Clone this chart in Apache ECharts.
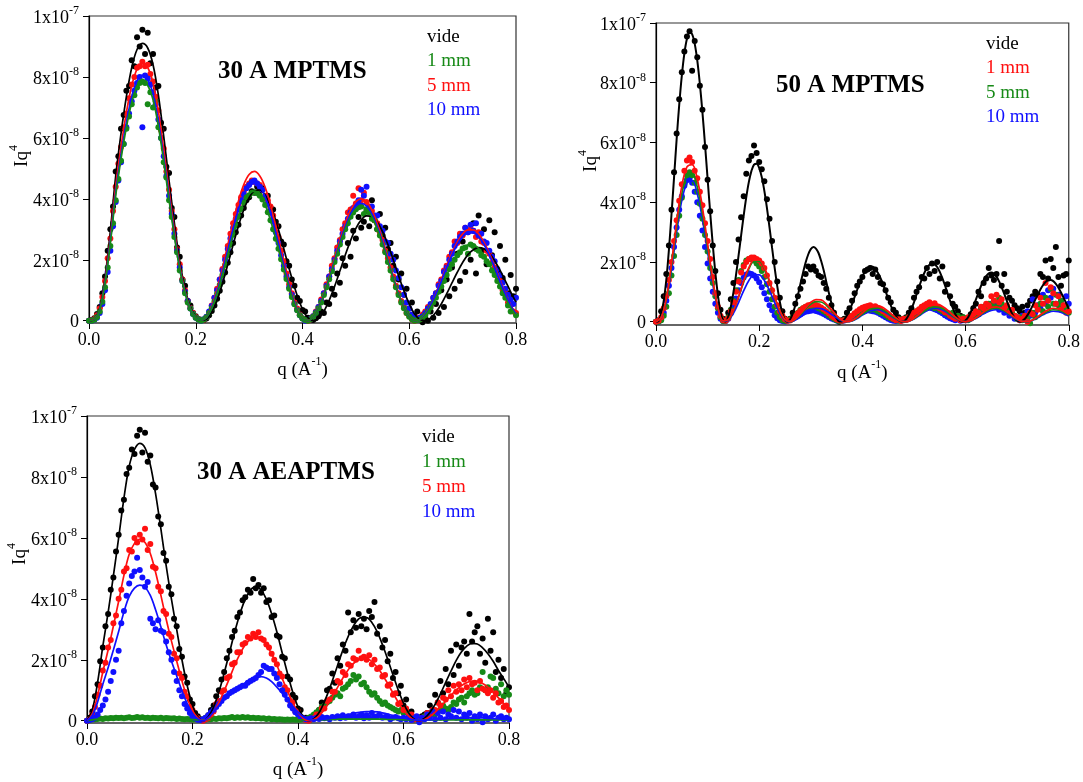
<!DOCTYPE html>
<html><head><meta charset="utf-8">
<script src="https://cdn.jsdelivr.net/npm/echarts@6/dist/echarts.min.js"></script>
<style>html,body{margin:0;padding:0;background:#fff}#c{width:1083px;height:782px}</style>
</head><body><div id="c"></div>
<script>
// ---- q grids (A^-1) ----
const qPts = [
0,0.005,0.01,0.015,0.02,0.025,0.03,0.035,0.04,0.045,0.05,0.055,0.06,0.065,0.07,0.075,0.08,0.085,0.09,0.095,
0.1,0.105,0.11,0.115,0.12,0.125,0.13,0.135,0.14,0.145,0.15,0.155,0.16,0.165,0.17,0.175,0.18,0.185,0.19,0.195,
0.2,0.205,0.21,0.215,0.22,0.225,0.23,0.235,0.24,0.245,0.25,0.255,0.26,0.265,0.27,0.275,0.28,0.285,0.29,0.295,
0.3,0.305,0.31,0.315,0.32,0.325,0.33,0.335,0.34,0.345,0.35,0.355,0.36,0.365,0.37,0.375,0.38,0.385,0.39,0.395,
0.4,0.405,0.41,0.415,0.42,0.425,0.43,0.435,0.44,0.445,0.45,0.455,0.46,0.465,0.47,0.475,0.48,0.485,0.49,0.495,
0.5,0.505,0.51,0.515,0.52,0.525,0.53,0.535,0.54,0.545,0.55,0.555,0.56,0.565,0.57,0.575,0.58,0.585,0.59,0.595,
0.6,0.605,0.61,0.615,0.62,0.625,0.63,0.635,0.64,0.645,0.65,0.655,0.66,0.665,0.67,0.675,0.68,0.685,0.69,0.695,
0.7,0.705,0.71,0.715,0.72,0.725,0.73,0.735,0.74,0.745,0.75,0.755,0.76,0.765,0.77,0.775,0.78,0.785,0.79,0.795,
0.8];
const qLine = [
0,0.01,0.02,0.03,0.04,0.05,0.06,0.07,0.08,0.09,0.1,0.11,0.12,0.13,0.14,0.15,0.16,0.17,0.18,0.19,
0.2,0.21,0.22,0.23,0.24,0.25,0.26,0.27,0.28,0.29,0.3,0.31,0.32,0.33,0.34,0.35,0.36,0.37,0.38,0.39,
0.4,0.41,0.42,0.43,0.44,0.45,0.46,0.47,0.48,0.49,0.5,0.51,0.52,0.53,0.54,0.55,0.56,0.57,0.58,0.59,
0.6,0.61,0.62,0.63,0.64,0.65,0.66,0.67,0.68,0.69,0.7,0.71,0.72,0.73,0.74,0.75,0.76,0.77,0.78,0.79,
0.8];

// ---- tick labels ----
const xTicks = [0, 0.2, 0.4, 0.6, 0.8];
const yTicks = [0, 2, 4, 6, 8, 10];            // units of 1e-8
const yTickText = ['0','2x10|-8','4x10|-8','6x10|-8','8x10|-8','1x10|-7'];

// ---- panel titles / legends ----
const titles = ['30 A MPTMS', '50 A MPTMS', '30 A AEAPTMS'];
const legend1 = ['vide', '1 mm', '5 mm', '10 mm'];

// ===== Panel 1 : 30 A MPTMS (Iq4, units 1e-8) =====
const p1BlackPts = [
0,0.02,0.08,0.22,0.45,0.9,1.45,2.3,3.0,3.75,4.9,5.4,6.3,6.75,7.55,7.7,8.55,8.35,9.3,9.0,
9.55,8.75,9.45,8.45,8.75,7.65,7.7,6.5,6.3,5.05,4.85,3.7,3.4,2.4,2.1,1.35,1.15,0.65,0.5,0.25,
0.15,0.06,0.03,0.02,0.07,0.18,0.32,0.5,0.72,0.98,1.28,1.58,1.9,2.25,2.55,2.9,3.15,3.45,3.7,3.95,
4.05,4.25,4.2,4.4,4.25,4.35,4.05,4.1,3.7,3.65,3.25,3.1,2.6,2.5,1.95,1.8,1.35,1.15,0.75,0.65,
0.35,0.3,0.1,0.05,0.02,0.08,0.15,0.3,0.25,0.6,0.55,1.05,0.85,1.55,1.25,2.05,1.8,2.55,2.1,2.95,
2.7,3.4,3.05,3.25,3.6,3.1,3.95,3.3,3.0,3.5,2.8,3.05,2.35,2.55,1.8,2.1,1.35,1.55,0.85,1.05,
0.4,0.6,0.15,0.3,0.05,-0.05,0.1,0,0.3,0.1,0.55,0.25,1.0,0.45,1.35,0.8,1.75,1.05,2.2,1.3,
2.6,1.6,2.95,2.0,3.2,1.55,3.45,2.3,3.0,1.85,3.3,2.15,2.9,1.6,2.45,1.4,2.0,0.9,1.5,0.8,
1.05];
const p1RedPts = [
0,0.01,0.06,0.18,0.4,0.78,1.3,2.05,2.7,3.6,4.4,5.15,5.7,6.35,6.8,7.3,7.75,8.0,8.3,8.35,
8.5,8.35,8.4,8.1,7.85,7.35,6.9,6.25,5.65,4.9,4.3,3.6,3.0,2.35,1.85,1.35,1.0,0.65,0.42,0.25,
0.12,0.05,0.02,0.03,0.12,0.28,0.5,0.75,1.05,1.35,1.7,2.1,2.45,2.85,3.2,3.5,3.8,4.05,4.25,4.4,
4.5,4.6,4.55,4.5,4.45,4.3,4.1,3.95,3.75,3.45,3.1,2.75,2.3,1.95,1.55,1.2,0.9,0.6,0.4,0.2,
0.08,0.02,0.0,0.05,0.15,0.3,0.45,0.7,0.9,1.2,1.45,1.8,2.05,2.4,2.65,3.0,3.2,3.55,3.65,4.1,
3.85,4.35,3.95,4.2,3.9,3.75,3.6,3.3,3.2,2.9,2.65,2.3,2.05,1.75,1.45,1.15,0.9,0.65,0.45,0.25,
0.15,0.05,0.0,0.1,0.05,0.2,0.3,0.45,0.5,0.75,0.9,1.2,1.35,1.65,1.8,2.1,2.25,2.6,2.55,2.85,
2.8,3.05,2.9,3.0,2.95,2.75,2.9,2.6,2.55,2.3,2.2,1.9,1.75,1.45,1.3,1.0,0.9,0.6,0.5,0.3,
0.25];
const p1BluePts = [
0,0.0,0.03,0.1,0.25,0.55,1.0,1.6,2.3,3.1,3.9,4.6,5.2,5.8,6.35,6.8,7.2,7.55,7.8,8.0,
6.35,8.05,7.95,7.75,7.5,7.1,6.6,6.0,5.4,4.75,4.1,3.5,2.85,2.3,1.75,1.3,0.95,0.65,0.4,0.22,
0.1,0.04,0.0,0.05,0.13,0.3,0.48,0.75,1.0,1.35,1.65,2.0,2.35,2.7,3.05,3.35,3.65,3.95,4.15,4.35,
4.45,4.55,4.6,4.5,4.4,4.3,4.05,3.85,3.55,3.25,2.9,2.55,2.15,1.8,1.45,1.1,0.85,0.55,0.35,0.18,
0.07,0.0,0.02,0.06,0.15,0.28,0.45,0.65,0.9,1.15,1.45,1.7,2.0,2.3,2.6,2.85,3.1,3.35,3.55,3.7,
3.8,3.95,4.3,4.1,4.4,3.7,3.75,3.45,3.45,3.1,2.95,2.6,2.55,2.2,2.0,1.65,1.4,1.1,0.85,0.6,
0.4,0.2,0.1,0.02,0.1,0.15,0.25,0.4,0.55,0.75,0.9,1.15,1.3,1.6,1.75,2.0,2.2,2.45,2.6,2.75,
2.85,3.05,2.9,3.15,2.95,3.2,2.8,2.85,2.6,2.55,2.3,2.1,1.95,1.7,1.5,1.25,1.05,0.85,0.7,0.55,
0.75];
const p1GreenPts = [
0,0.0,0.03,0.12,0.3,0.62,1.1,1.75,2.45,3.2,3.95,4.65,5.25,5.8,6.3,6.7,7.1,7.4,7.65,7.8,
7.85,7.8,7.1,7.5,7.0,7.2,6.35,6.0,5.2,4.7,3.95,3.4,2.75,2.25,1.65,1.3,0.9,0.6,0.4,0.22,
0.1,0.04,0.0,0.04,0.11,0.25,0.41,0.63,0.89,1.18,1.5,1.83,2.16,2.5,2.82,3.12,3.41,3.67,3.88,4.05,
4.12,4.2,4.22,4.18,4.1,3.98,3.8,3.56,3.3,3.0,2.69,2.36,2.02,1.68,1.37,1.05,0.78,0.54,0.34,0.18,
0.07,0.02,0.0,0.05,0.13,0.25,0.41,0.6,0.84,1.1,1.36,1.62,1.93,2.2,2.5,2.75,3.0,3.2,3.41,3.55,
3.66,3.72,3.75,3.5,3.66,3.55,3.35,3.3,3.0,2.8,2.5,2.25,1.93,1.65,1.36,1.1,0.84,0.6,0.41,0.25,
0.13,0.05,0.0,0.02,0.04,0.1,0.18,0.3,0.43,0.6,0.75,0.95,1.12,1.3,1.5,1.7,1.85,2.0,2.15,2.25,
2.37,2.4,2.2,2.5,2.45,2.35,2.3,2.15,2.1,1.95,1.85,1.65,1.5,1.3,1.12,0.9,0.75,0.5,0.3,-0.1,
0.18];
const p1BlackFit = [
0,0.05,0.40,1.40,2.95,4.75,6.15,7.35,8.30,8.90,9.10,8.95,8.40,7.40,6.05,4.60,3.20,1.95,1.05,0.45,0.13,0.02,
0.05,0.28,0.68,1.22,1.84,2.49,3.11,3.64,4.04,4.26,4.29,4.12,3.78,3.28,2.68,2.03,1.40,0.83,0.38,0.10,0.00,
0.08,0.31,0.67,1.12,1.63,2.15,2.63,3.03,3.31,3.44,3.42,3.24,2.92,2.50,2.00,1.48,0.98,0.55,0.22,0.04,
0.00,0.09,0.28,0.55,0.88,1.24,1.59,1.91,2.17,2.33,2.40,2.36,2.21,1.97,1.66,1.31,0.95,0.61];
const p1RedFit = [
0,0.05,0.37,1.30,2.74,4.41,5.71,6.83,7.71,8.26,8.45,8.31,7.80,6.87,5.62,4.27,2.97,1.81,0.97,0.41,0.12,0.02,
0.12,0.48,1.03,1.72,2.49,3.25,3.93,4.47,4.80,4.90,4.75,4.38,3.81,3.10,2.33,1.58,0.91,0.39,0.08,
0.00,0.14,0.44,0.90,1.45,2.06,2.67,3.20,3.63,3.91,4.00,3.91,3.63,3.20,2.67,2.06,1.45,0.90,0.44,0.14,0.00,
0.04,0.22,0.51,0.90,1.34,1.80,2.22,2.58,2.85,2.98,2.98,2.85,2.58,2.22,1.80,1.34,0.90,0.51,0.22];
const p1BlueFit = [
0,0.04,0.35,1.24,2.61,4.20,5.44,6.50,7.34,7.87,8.05,7.92,7.43,6.54,5.35,4.07,2.83,1.72,0.93,0.39,0.11,0.02,
0.11,0.44,0.95,1.60,2.31,3.02,3.65,4.15,4.46,4.55,4.41,4.06,3.54,2.88,2.17,1.46,0.84,0.36,0.07,
0.00,0.13,0.43,0.86,1.40,1.98,2.57,3.08,3.50,3.76,3.85,3.76,3.50,3.08,2.57,1.98,1.40,0.86,0.43,0.13,0.00,
0.04,0.21,0.50,0.87,1.29,1.74,2.15,2.50,2.75,2.88,2.88,2.75,2.50,2.15,1.74,1.29,0.87,0.50,0.21];
const p1GreenFit = [
0,0.04,0.35,1.21,2.54,4.10,5.31,6.34,7.16,7.68,7.85,7.72,7.25,6.38,5.22,3.96,2.76,1.68,0.90,0.38,0.11,0.02,
0.11,0.41,0.89,1.50,2.16,2.82,3.41,3.88,4.16,4.25,4.12,3.80,3.30,2.69,2.02,1.37,0.78,0.34,0.07,
0.00,0.13,0.41,0.84,1.36,1.93,2.50,3.00,3.41,3.66,3.75,3.66,3.41,3.00,2.50,1.93,1.36,0.84,0.41,0.13,0.00,
0.04,0.18,0.43,0.75,1.12,1.50,1.85,2.15,2.37,2.49,2.49,2.37,2.15,1.85,1.50,1.12,0.75,0.43,0.18];

// ===== Panel 2 : 50 A MPTMS =====
const p2BlackPts = [
0,0.05,0.35,0.85,1.6,2.55,3.75,5.0,6.3,7.45,8.35,9.05,9.55,9.72,8.4,9.4,8.85,7.9,7.1,5.85,
4.75,3.7,2.55,1.7,0.95,0.4,0.1,0.05,0.3,0.75,1.3,2.0,2.75,3.5,4.2,4.95,5.4,5.55,5.9,5.65,
5.35,5.1,4.7,4.1,3.45,2.7,2.0,1.35,0.8,0.35,0.1,0.05,0.1,0.3,0.6,0.85,1.1,1.35,1.6,1.85,
1.75,1.85,1.7,1.55,1.5,1.3,1.1,0.8,0.55,0.3,0.1,0.0,0.05,0.1,0.3,0.45,0.7,0.95,1.2,1.35,
1.5,1.7,1.75,1.8,1.6,1.75,1.5,1.3,1.25,1.05,0.8,0.65,0.4,0.3,0.15,0.05,0.1,0.15,0.3,0.45,
0.8,1.0,1.15,1.5,1.45,1.8,1.6,1.95,1.7,2.0,1.45,1.85,1.0,1.25,0.85,0.6,0.5,0.35,0.2,0.15,
0.05,0.1,0.25,0.45,0.6,1.0,0.85,1.3,1.45,1.8,1.55,1.4,1.6,2.7,1.2,1.6,1.0,0.8,0.7,0.55,
0.45,0.35,0.5,0.3,0.55,0.7,0.85,1.0,0.9,1.6,1.5,2.05,1.45,2.1,1.8,2.5,1.5,1.2,1.55,1.6,
2.05];
const p2RedPts = [
0,0.03,0.15,0.45,0.85,1.4,2.0,2.7,3.4,4.05,4.6,5.05,5.4,5.5,5.35,5.05,4.8,4.35,3.9,3.3,
2.7,2.1,1.5,0.95,0.5,0.2,0.05,0.03,0.12,0.35,0.65,1.0,1.35,1.65,1.85,2.0,2.1,2.15,2.15,2.1,
2.05,1.95,1.8,1.55,1.3,1.05,0.8,0.55,0.35,0.2,0.08,0.03,0.04,0.1,0.18,0.28,0.37,0.45,0.5,0.55,
0.57,0.58,0.56,0.53,0.48,0.42,0.35,0.28,0.2,0.14,0.08,0.05,0.03,0.05,0.08,0.14,0.2,0.28,0.35,0.42,
0.47,0.5,0.53,0.55,0.5,0.52,0.45,0.42,0.35,0.3,0.22,0.15,0.1,0.05,0.08,0.02,0.1,0.06,0.15,0.2,
0.3,0.35,0.42,0.5,0.55,0.6,0.65,0.55,0.62,0.5,0.45,0.4,0.32,0.3,0.2,0.15,0.1,0.12,0.05,0.1,
0.05,0.15,0.1,0.25,0.35,0.3,0.5,0.45,0.6,0.55,0.85,0.7,0.9,0.65,0.75,0.45,0.55,0.3,0.4,0.2,
0.15,0.05,0.1,0.2,0.0,0.3,0.25,0.55,0.4,0.8,0.6,1.3,0.7,1.15,0.95,0.6,0.85,0.4,0.55,0.3,
0.35];
const p2GreenPts = [
0,0.0,0.05,0.2,0.5,0.95,1.55,2.2,2.9,3.55,4.15,4.6,4.9,5.0,4.9,4.65,4.35,3.95,3.45,2.9,
2.35,1.8,1.3,0.85,0.45,0.15,0.02,0.03,0.15,0.4,0.7,1.05,1.4,1.7,1.9,2.05,2.1,2.1,2.05,1.95,
1.85,1.7,1.5,1.25,1.0,0.75,0.5,0.3,0.15,0.05,0.02,0.05,0.08,0.15,0.22,0.3,0.4,0.45,0.5,0.52,
0.55,0.5,0.52,0.45,0.42,0.35,0.3,0.22,0.15,0.1,0.05,0.02,0.03,0.06,0.1,0.15,0.2,0.25,0.3,0.35,
0.38,0.42,0.45,0.4,0.45,0.4,0.35,0.3,0.28,0.22,0.15,0.12,0.08,0.05,0.03,0.08,0.05,0.12,0.15,0.22,
0.25,0.35,0.4,0.45,0.5,0.45,0.55,0.5,0.45,0.48,0.4,0.35,0.3,0.25,0.2,0.3,0.15,0.2,0.1,0.15,
0.1,0.05,0.15,0.2,0.3,0.25,0.4,0.5,0.45,0.6,0.55,0.7,0.5,0.8,0.6,0.45,0.5,0.35,0.3,0.2,
0.1,0.15,0.05,0.2,0.1,-0.05,0.3,0.15,0.45,0.6,0.35,0.8,0.5,1.1,0.6,0.9,0.55,0.7,0.4,0.5,
0.3];
const p2BluePts = [
0,0.0,0.08,0.3,0.7,1.2,1.8,2.5,3.15,3.75,4.2,4.55,4.75,4.8,4.65,4.35,4.0,3.55,3.05,2.5,
1.95,1.45,1.0,0.6,0.3,0.1,0.02,0.02,0.1,0.28,0.5,0.78,1.05,1.3,1.48,1.58,1.62,1.6,1.55,1.45,
1.32,1.15,0.95,0.75,0.55,0.38,0.22,0.12,0.05,0.02,0.01,0.03,0.06,0.1,0.15,0.2,0.25,0.3,0.33,0.35,
0.37,0.38,0.36,0.33,0.3,0.26,0.21,0.16,0.11,0.07,0.04,0.02,0.02,0.04,0.08,0.12,0.17,0.22,0.27,0.3,
0.33,0.36,0.38,0.37,0.35,0.33,0.3,0.25,0.2,0.15,0.1,0.06,0.03,0.02,0.04,0.03,0.06,0.1,0.14,0.2,
0.25,0.3,0.35,0.4,0.43,0.45,0.48,0.45,0.42,0.38,0.33,0.28,0.22,0.17,0.12,0.08,0.05,0.08,0.03,0.05,
0.05,0.1,0.15,0.2,0.3,0.25,0.45,0.35,0.55,0.45,0.6,0.5,0.55,0.4,0.45,0.3,0.35,0.2,0.25,0.1,
0.15,0.05,0.2,0.1,0.35,0.2,0.75,0.3,0.55,0.45,0.9,0.6,1.05,0.8,1.1,0.6,0.9,0.7,0.5,0.85,
0.6];
// black fit sampled on qPts (0.005 step)
const p2BlackFit = [
0,0.02,0.27,0.70,1.40,2.40,3.58,4.83,6.11,7.26,8.23,8.98,9.47,9.69,9.63,9.31,8.75,7.96,7.01,5.93,
4.79,3.66,2.59,1.65,0.89,0.34,0.05,0.01,0.17,0.50,0.97,1.55,2.21,2.89,3.56,4.17,4.68,5.05,5.26,5.29,
5.15,4.84,4.38,3.81,3.16,2.47,1.80,1.19,0.67,0.28,0.06,0.00,0.08,0.27,0.55,0.89,1.27,1.64,1.98,2.25,
2.43,2.50,2.45,2.30,2.04,1.72,1.34,0.97,0.62,0.32,0.11,0.01,0.01,0.08,0.21,0.38,0.59,0.83,1.07,1.30,
1.51,1.67,1.79,1.85,1.84,1.77,1.64,1.47,1.26,1.02,0.78,0.55,0.34,0.18,0.06,0.01,0.01,0.09,0.23,0.42,
0.65,0.91,1.17,1.42,1.63,1.80,1.91,1.95,1.92,1.83,1.67,1.46,1.22,0.96,0.70,0.47,0.26,0.11,0.02,0.00,
0.05,0.15,0.32,0.52,0.74,0.97,1.20,1.39,1.53,1.62,1.65,1.61,1.51,1.35,1.15,0.93,0.70,0.47,0.28,0.13,
0.03,0.00,0.03,0.10,0.22,0.37,0.54,0.73,0.91,1.08,1.22,1.33,1.39,1.40,1.36,1.27,1.14,0.98,0.80,0.62,
0.43];
const p2RedFit = [
0,0.14,0.77,1.96,3.34,4.54,5.18,5.26,4.78,3.83,2.62,1.42,0.48,0.03,
0.07,0.37,0.84,1.37,1.81,2.07,2.07,1.81,1.37,0.84,0.37,0.07,
0.01,0.09,0.27,0.47,0.65,0.74,0.73,0.60,0.41,0.21,0.06,0.00,
0.04,0.15,0.30,0.44,0.53,0.54,0.48,0.35,0.20,0.07,0.00,
0.02,0.12,0.26,0.42,0.54,0.60,0.57,0.46,0.31,0.16,0.04,0.00,
0.04,0.13,0.26,0.39,0.48,0.50,0.45,0.34,0.21,0.09,0.01,
0.01,0.06,0.17,0.29,0.39,0.45,0.43,0.36,0.24];
const p2GreenFit = [
0,0.14,0.73,1.85,3.15,4.28,4.88,4.97,4.51,3.61,2.47,1.34,0.46,0.03,
0.06,0.36,0.82,1.33,1.77,2.02,2.02,1.77,1.33,0.82,0.36,0.06,
0.00,0.09,0.24,0.43,0.59,0.67,0.66,0.55,0.37,0.19,0.05,0.00,
0.03,0.13,0.25,0.36,0.44,0.45,0.39,0.28,0.16,0.06,0.00,
0.02,0.10,0.22,0.35,0.45,0.50,0.47,0.39,0.26,0.13,0.04,0.00,
0.03,0.12,0.24,0.35,0.43,0.45,0.40,0.31,0.19,0.08,0.01,
0.00,0.06,0.15,0.26,0.35,0.40,0.39,0.32,0.22];
const p2BlueFit = [
0,0.13,0.69,1.75,2.99,4.06,4.64,4.72,4.28,3.43,2.35,1.27,0.43,0.02,
0.05,0.28,0.64,1.04,1.38,1.57,1.57,1.38,1.04,0.64,0.28,0.05,
0.00,0.06,0.16,0.28,0.39,0.45,0.44,0.36,0.25,0.13,0.03,0.00,
0.03,0.11,0.22,0.32,0.39,0.40,0.35,0.25,0.14,0.05,0.00,
0.02,0.09,0.20,0.32,0.41,0.45,0.43,0.35,0.23,0.12,0.03,0.00,
0.03,0.11,0.21,0.31,0.38,0.40,0.36,0.27,0.17,0.07,0.01,
0.00,0.05,0.13,0.23,0.31,0.35,0.34,0.28,0.19];

// ===== Panel 3 : 30 A AEAPTMS =====
const p3BlackPts = [
0,0.1,0.3,0.8,1.2,1.95,2.4,3.1,3.5,4.3,4.7,5.55,6.1,6.9,7.25,8.1,8.3,8.9,8.75,9.35,
9.55,8.8,9.45,8.5,8.7,7.75,7.65,6.7,6.45,5.5,5.25,4.4,4.15,3.35,3.1,2.35,2.1,1.45,1.25,0.7,
0.55,0.25,0.15,0.05,0.02,0.1,0.18,0.35,0.5,0.8,1.0,1.35,1.6,2.05,2.3,2.75,2.95,3.4,3.55,3.95,
4.05,4.3,4.2,4.65,4.35,4.45,4.2,4.35,3.9,3.95,3.4,3.45,2.8,2.75,2.1,2.05,1.45,1.35,0.85,0.75,
0.4,0.35,0.1,0.1,0.02,0.05,0.1,0.2,0.35,0.6,0.55,1.0,1.05,1.55,1.25,2.05,1.8,2.5,2.3,3.55,
2.9,3.3,3.05,3.5,3.1,3.35,3.0,3.6,3.4,3.9,2.85,3.1,2.4,2.65,1.95,2.2,1.4,1.6,0.9,1.15,
0.5,0.7,0.2,0.3,0.05,0.1,0.0,0.15,0.2,0.25,0.5,0.3,0.85,0.6,1.3,0.9,1.7,1.2,2.3,1.5,
2.5,1.8,2.4,2.6,2.2,3.5,2.6,2.9,3.1,2.2,2.7,1.9,3.35,2.3,2.9,1.6,2.0,1.4,1.7,0.9,
1.1];
const p3GreenPts = [
0,0.03,0.05,0.05,0.06,0.07,0.06,0.08,0.07,0.09,0.08,0.1,0.09,0.1,0.08,0.1,0.11,0.09,0.1,0.12,
0.1,0.11,0.09,0.1,0.08,0.1,0.09,0.08,0.1,0.07,0.09,0.08,0.07,0.08,0.06,0.07,0.06,0.05,0.06,0.05,
0.04,0.05,0.04,0.03,0.05,0.04,0.06,0.05,0.07,0.06,0.08,0.07,0.09,0.08,0.1,0.12,0.09,0.11,0.1,0.12,
0.1,0.11,0.09,0.1,0.08,0.09,0.07,0.08,0.06,0.07,0.05,0.06,0.04,0.05,0.04,0.03,0.04,0.03,0.04,0.03,
0.03,0.04,0.05,0.06,0.1,0.14,0.2,0.28,0.35,0.45,0.5,0.6,0.65,0.75,0.85,0.9,0.8,1.05,1.1,1.2,
1.3,1.5,1.35,1.45,1.2,1.25,1.1,0.95,0.85,0.9,0.75,0.65,0.55,0.6,0.5,0.45,0.4,0.35,0.3,0.35,
0.25,0.3,0.2,0.15,0.1,0.05,0.1,0.05,0.15,0.2,0.25,0.2,0.2,0.3,0.35,0.5,0.4,0.35,0.45,0.6,
0.55,0.7,0.75,0.6,0.8,0.9,1.0,0.85,0.9,1.1,1.6,1.0,1.1,1.45,1.4,1.05,0.9,1.2,0.8,1.0,
0.85];
const p3RedPts = [
0,0.05,0.2,0.45,0.85,1.15,1.65,1.9,2.4,2.65,3.2,3.45,4.0,4.3,4.9,5.0,5.6,5.55,6.0,5.85,
6.1,5.95,6.3,5.6,5.8,5.05,5.0,4.4,4.25,3.6,3.5,2.85,2.75,2.2,2.05,1.55,1.4,0.95,0.8,0.45,
0.35,0.15,0.08,0.02,0.0,0.05,0.08,0.2,0.3,0.55,0.65,0.95,1.0,1.4,1.45,1.85,1.9,2.25,2.25,2.5,
2.55,2.75,2.7,2.85,2.75,2.9,2.7,2.65,2.5,2.4,2.2,2.0,1.85,1.55,1.45,1.1,1.0,0.65,0.6,0.3,
0.3,0.1,0.08,0.02,0.0,0.05,0.1,0.2,0.2,0.4,0.4,0.65,0.7,0.95,0.95,1.3,1.25,1.6,1.5,1.85,
1.8,2.05,2.0,2.3,2.05,2.1,2.0,2.15,1.85,2.0,1.7,1.75,1.45,1.5,1.15,1.2,0.85,0.9,0.55,0.6,
0.35,0.4,0.15,0.2,0.05,0.1,0.0,0.1,0.1,0.25,0.2,0.35,0.35,0.6,0.5,0.75,0.7,1.0,0.8,1.15,
0.95,1.2,1.0,1.35,1.1,1.4,1.2,1.25,1.0,1.3,1.05,1.0,0.9,1.0,0.75,0.9,0.6,0.65,0.45,0.5,
0.35];
const p3BluePts = [
0,0.02,0.05,0.1,0.2,0.35,0.5,0.7,0.95,1.3,1.6,2.0,2.3,3.2,3.6,4.1,4.5,4.75,4.9,5.35,
4.95,4.7,4.4,4.55,3.35,3.2,3.0,3.3,2.95,2.9,2.6,2.25,2.0,1.6,1.3,1.0,0.8,0.55,0.4,0.25,
0.15,0.08,0.03,0.02,0.05,0.1,0.18,0.28,0.35,0.45,0.55,0.65,0.75,0.8,0.9,0.95,1.0,1.05,1.1,1.15,
1.15,1.25,1.3,1.35,1.4,1.5,1.6,1.8,1.75,1.7,1.7,1.55,1.4,1.2,1.0,0.85,0.7,0.5,0.4,0.28,
0.2,0.12,0.08,0.05,0.05,0.08,0.05,0.1,0.06,0.12,0.08,0.1,0.05,0.12,0.1,0.15,0.08,0.18,0.1,0.15,
0.12,0.2,0.1,0.15,0.2,0.08,0.18,0.1,0.25,0.12,0.15,0.2,0.1,0.12,0.15,0.05,0.1,0.12,0.08,0.05,
0.1,0.05,0.12,0.02,0.08,0.15,-0.05,0.1,0.05,0.2,0.1,0.3,0.05,0.25,0.1,0.3,0.05,0.2,0.15,0.35,
0.1,0.3,0.05,0.2,0.1,0.25,0.0,0.15,0.05,0.2,-0.05,0.15,0.05,0.1,0.2,0.0,0.1,0.15,0.05,0.1,
0.05];
const p3BlackFit = [
0,0.35,1.25,2.45,3.55,4.75,6.0,7.3,8.35,8.9,9.1,8.95,8.4,7.45,6.3,5.1,4.0,3.0,2.0,1.15,0.5,0.13,
0.0,0.13,0.45,0.94,1.56,2.23,2.91,3.51,3.99,4.29,4.40,4.29,3.99,3.51,2.91,2.23,1.56,0.94,0.45,0.13,0.0,
0.06,0.27,0.62,1.06,1.56,2.07,2.55,2.95,3.24,3.38,3.38,3.22,2.92,2.50,2.02,1.51,1.01,0.58,0.25,0.05,
0.0,0.08,0.27,0.54,0.88,1.26,1.63,1.98,2.26,2.45,2.54,2.52,2.39,2.2,1.95,1.65,1.38,1.1];
const p3GreenFit = [
0,0.03,0.05,0.06,0.07,0.08,0.08,0.09,0.09,0.1,0.1,0.1,0.1,0.09,0.09,0.08,0.08,0.07,0.06,0.05,0.04,0.03,
0.03,0.04,0.05,0.06,0.07,0.08,0.09,0.09,0.1,0.1,0.1,0.09,0.09,0.08,0.07,0.06,0.05,0.04,0.03,0.03,0.02,
0.02,0.03,0.03,0.04,0.04,0.05,0.05,0.05,0.05,0.05,0.05,0.05,0.05,0.05,0.04,0.04,0.04,0.03,0.03,0.03,
0.03,0.03,0.03,0.03,0.03,0.03,0.03,0.03,0.03,0.03,0.03,0.03,0.03,0.03,0.03,0.03,0.03,0.03];
const p3RedFit = [
0,0.23,0.82,1.60,2.32,3.11,3.92,4.77,5.46,5.82,5.95,5.85,5.49,4.87,4.12,3.34,2.62,1.96,1.31,0.75,0.33,0.09,
0.0,0.08,0.28,0.59,0.98,1.39,1.82,2.19,2.49,2.68,2.75,2.68,2.49,2.19,1.82,1.39,0.98,0.59,0.28,0.08,0.0,
0.04,0.16,0.37,0.64,0.94,1.25,1.54,1.78,1.95,2.04,2.04,1.94,1.76,1.51,1.22,0.91,0.61,0.35,0.15,0.03,
0.0,0.04,0.14,0.28,0.45,0.64,0.83,1.01,1.15,1.25,1.30,1.29,1.22,1.10,0.94,0.75,0.56,0.40];
const p3BlueFit = [
0,0.17,0.61,1.20,1.74,2.32,2.93,3.57,4.08,4.35,4.45,4.38,4.11,3.64,3.08,2.49,1.96,1.47,0.98,0.56,0.24,0.06,
0.0,0.1,0.3,0.5,0.7,0.85,1.0,1.12,1.25,1.35,1.43,1.45,1.40,1.28,1.1,0.9,0.68,0.47,0.28,0.13,0.04,
0.02,0.03,0.05,0.07,0.1,0.14,0.18,0.22,0.26,0.28,0.3,0.3,0.29,0.26,0.22,0.17,0.12,0.08,0.05,0.03,
0.02,0.02,0.03,0.04,0.05,0.06,0.07,0.08,0.09,0.1,0.1,0.1,0.09,0.08,0.07,0.06,0.05,0.04];

// ---------------- chart ----------------
const FONT = '"Liberation Serif","Times New Roman",serif';
const COL = {black:'#000000', red:'#ff1010', green:'#178a17', blue:'#1010ff'};
const pair = (xs, ys) => xs.map((x, i) => [x, ys[i]]);

const rich = {
  a: {fontFamily: FONT, fontSize: 18, color: '#000', lineHeight: 22, verticalAlign: 'bottom'},
  s: {fontFamily: FONT, fontSize: 12, color: '#000', lineHeight: 12, verticalAlign: 'top'}
};
const richName = {
  a: {fontFamily: FONT, fontSize: 19, color: '#000', lineHeight: 24, verticalAlign: 'bottom'},
  s: {fontFamily: FONT, fontSize: 12, color: '#000', lineHeight: 12, verticalAlign: 'top'}
};
function yLabel(v) {
  const i = yTicks.findIndex(t => Math.abs(t - v) < 1e-6);
  if (i < 0) return '';
  const p = yTickText[i].split('|');
  return p.length > 1 ? '{a|' + p[0] + '}{s|' + p[1] + '}' : '{a|' + p[0] + '}';
}

const grids = [
  {left: 89, top: 16, width: 427, height: 307},
  {left: 656, top: 23, width: 416, height: 302},
  {left: 87, top: 416, width: 422, height: 307}
];
const yMins = [-0.075, -0.11, -0.075];
const xNameGap = [33, 34, 33];

const xAxes = grids.map((g, i) => ({
  type: 'value', gridIndex: i, min: 0, max: 0.8, interval: 0.2,
  axisLine: {show: true, onZero: false, lineStyle: {color: '#555', width: 1.5}},
  axisTick: {show: true, length: 6, customValues: xTicks, lineStyle: {color: '#000'}},
  axisLabel: {customValues: xTicks, margin: 8, fontFamily: FONT, fontSize: 18, color: '#000',
              formatter: v => v.toFixed(1)},
  splitLine: {show: false},
  name: '{a|q (A}{s|-1}{a|)}', nameLocation: 'middle', nameGap: xNameGap[i],
  nameTextStyle: {rich: richName}
}));
const yAxes = grids.map((g, i) => ({
  type: 'value', gridIndex: i, min: yMins[i], max: 10,
  axisLine: {show: true, onZero: false, lineStyle: {color: '#000', width: 1.2}},
  axisTick: {show: true, length: 6, customValues: yTicks, lineStyle: {color: '#000'}},
  axisLabel: {customValues: yTicks, margin: 10, formatter: yLabel, rich: rich},
  splitLine: {show: false}
}));

function sc(g, ys, c) {
  return {type: 'scatter', xAxisIndex: g, yAxisIndex: g, data: pair(qPts, ys),
          symbol: 'circle', symbolSize: 6, itemStyle: {color: c, opacity: 1}, silent: true};
}
function li(g, xs, ys, c, w) {
  return {type: 'line', xAxisIndex: g, yAxisIndex: g, data: pair(xs, ys), showSymbol: false,
          smooth: 0.35, lineStyle: {color: c, width: w || 1.7}, silent: true};
}

const series = [
  // panel 1
  sc(0, p1BlackPts, COL.black), li(0, qLine, p1BlackFit, COL.black),
  sc(0, p1RedPts, COL.red), li(0, qLine, p1RedFit, COL.red),
  sc(0, p1BluePts, COL.blue), li(0, qLine, p1BlueFit, COL.blue),
  sc(0, p1GreenPts, COL.green), li(0, qLine, p1GreenFit, COL.green),
  // panel 2
  sc(1, p2BlackPts, COL.black), li(1, qPts, p2BlackFit, COL.black, 2),
  sc(1, p2BluePts, COL.blue), li(1, qLine, p2BlueFit, COL.blue),
  sc(1, p2GreenPts, COL.green), li(1, qLine, p2GreenFit, COL.green),
  sc(1, p2RedPts, COL.red), li(1, qLine, p2RedFit, COL.red),
  // panel 3
  sc(2, p3BlackPts, COL.black), li(2, qLine, p3BlackFit, COL.black),
  sc(2, p3GreenPts, COL.green), li(2, qLine, p3GreenFit, COL.green),
  sc(2, p3RedPts, COL.red), li(2, qLine, p3RedFit, COL.red),
  sc(2, p3BluePts, COL.blue), li(2, qLine, p3BlueFit, COL.blue)
];

function txt(x, y, text, color, font) {
  return {type: 'text', x: x, y: y, silent: true,
          style: {text: text, fill: color, font: font, align: 'left', verticalAlign: 'middle',
                  textAlign: 'left', textVerticalAlign: 'middle'}};
}
function yName(x, y) {
  return {type: 'text', x: x, y: y, rotation: Math.PI / 2, silent: true,
          style: {text: '{a|Iq}{s|4}', rich: richName, align: 'center', verticalAlign: 'middle',
                  textAlign: 'center', textVerticalAlign: 'middle'}};
}
const TF = 'bold 25px ' + FONT, LF = '19px ' + FONT;
const legColors1 = [COL.black, COL.green, COL.red, COL.blue];
const legColors2 = [COL.black, COL.red, COL.green, COL.blue];
const graphic = [
  txt(218, 72, titles[0], '#000', TF),
  txt(776, 86, titles[1], '#000', TF),
  txt(197, 473, titles[2], '#000', TF),
  yName(20, 156), yName(589, 161), yName(18, 554)
];
[37, 61, 86, 110].forEach((y, i) => graphic.push(txt(427, y, legend1[i], legColors1[i], LF)));
[44, 68, 93, 117].forEach((y, i) => graphic.push(txt(986, y, legend1[i], legColors2[i], LF)));
[437, 462, 487, 512].forEach((y, i) => graphic.push(txt(422, y, legend1[i], legColors1[i], LF)));

const chart = echarts.init(document.getElementById('c'), null, {renderer: 'canvas'});
chart.setOption({
  animation: false,
  backgroundColor: '#fff',
  textStyle: {fontFamily: FONT},
  grid: grids.map(g => Object.assign({show: true, borderColor: '#333', borderWidth: 1.2,
                                      backgroundColor: 'transparent', containLabel: false}, g)),
  xAxis: xAxes,
  yAxis: yAxes,
  series: series,
  graphic: graphic
});
</script>
</body></html>
